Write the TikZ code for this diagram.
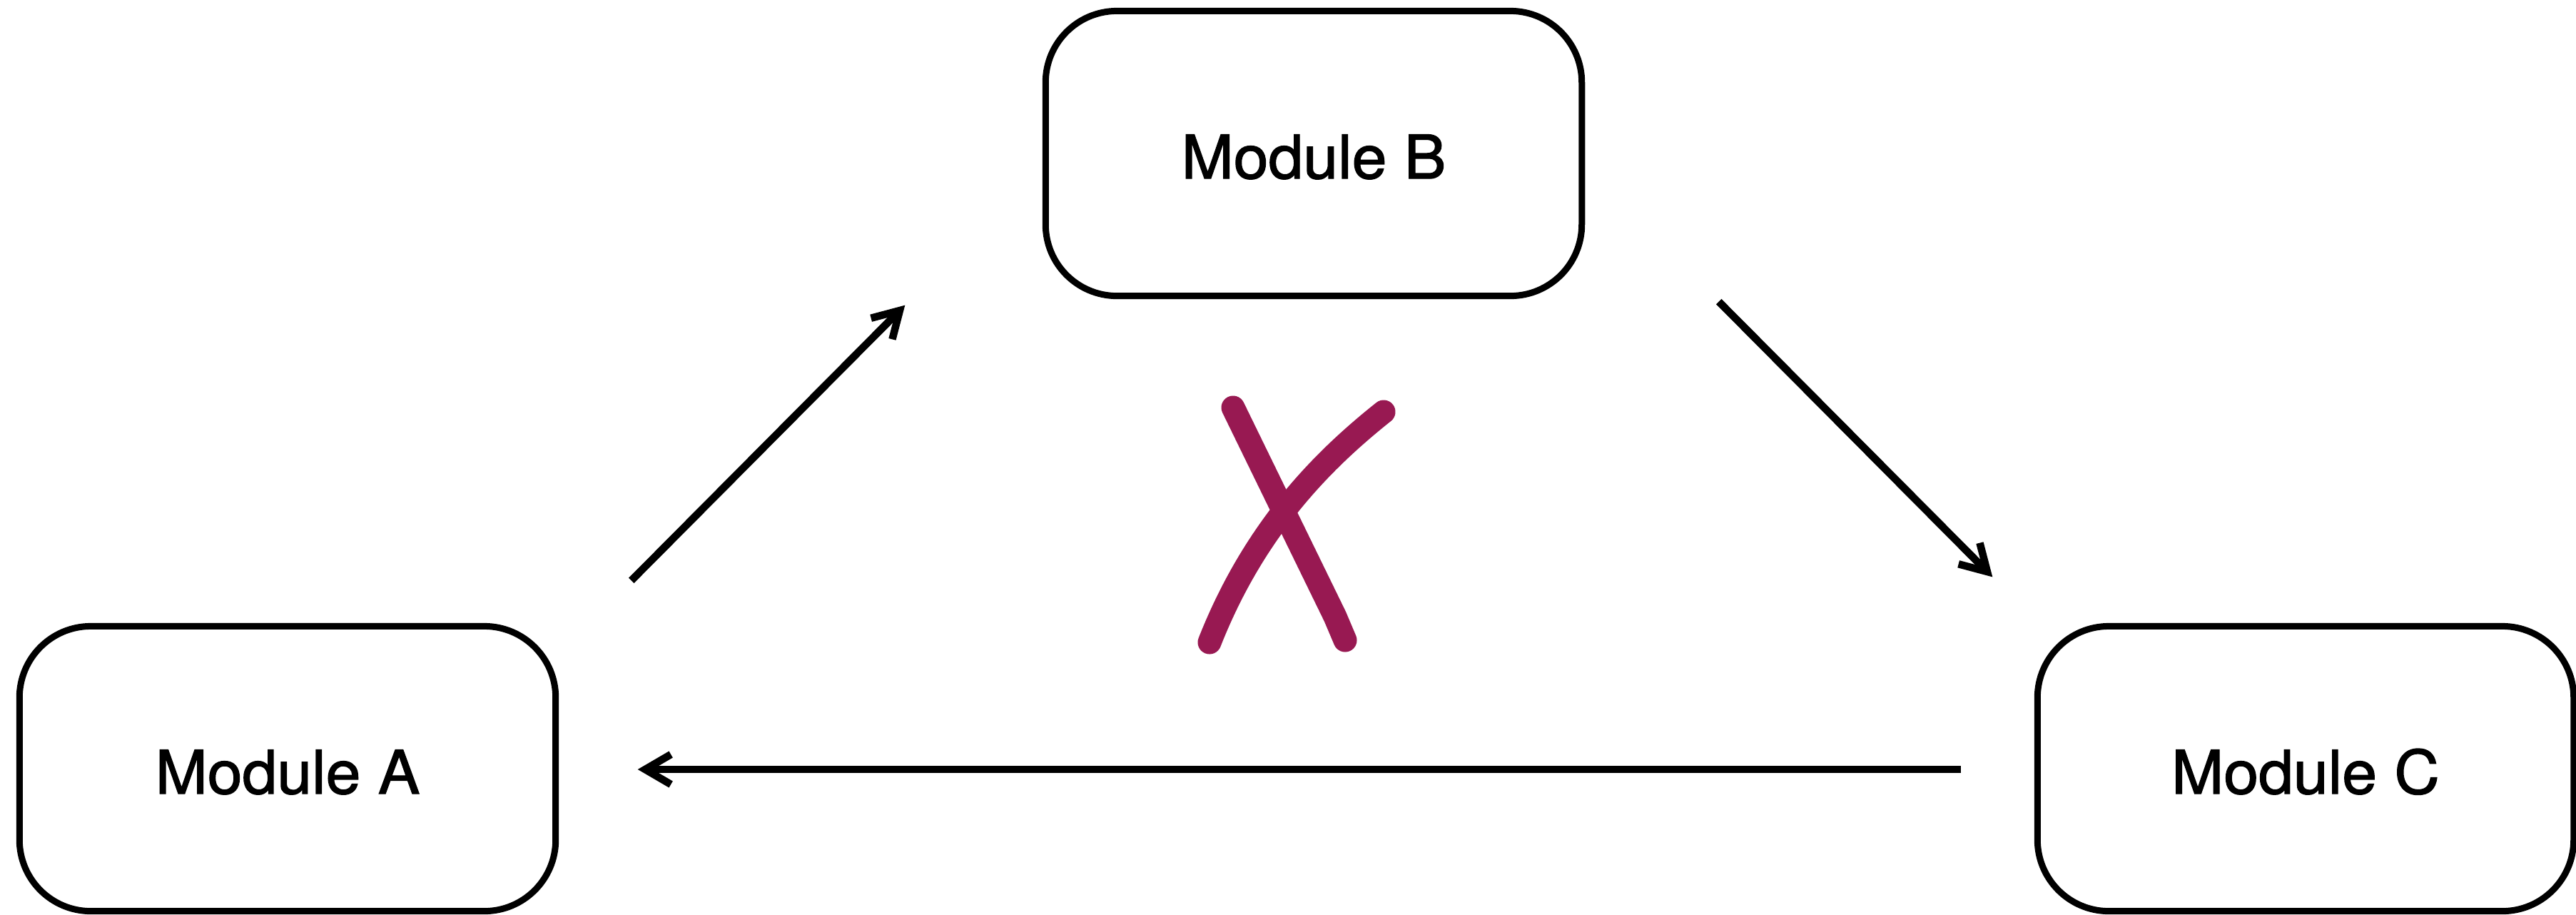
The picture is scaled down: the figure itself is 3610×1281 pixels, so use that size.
\documentclass[tikz,border=0pt]{standalone}
\usepackage{fontspec}
\newfontfamily\modfont{TeX Gyre Heros}[FakeStretch=1.04,FakeBold=1.6]
\usetikzlibrary{arrows.meta,calc}
\definecolor{xmark}{RGB}{152,25,82}
\begin{document}
\begin{tikzpicture}[x=0.01cm,y=-0.01cm,
  module/.style={draw=black, line width=0.09cm, rounded corners=1cm,
    minimum width=7.51cm, minimum height=3.99cm, inner sep=0pt,
    text height=0.70cm, text depth=0cm,
    font=\modfont\fontsize{24pt}{28pt}\selectfont},
  flow/.style={line width=0.105cm, -{Straight Barb[length=0.36cm,width=0.42cm]}},
  cross/.style={draw=xmark, line width=0.33cm, line cap=round, line join=round}]
\fill[white] (0,0) rectangle (3610,1281);
\useasboundingbox (0,0) rectangle (3610,1281);

% modules
\node[module] (A) at (403,1077) {Module A};
\node[module] (B) at (1841,215) {Module B};
\node[module] (C) at (3231,1077) {Module C};

% connector end points
\coordinate (ab0) at ($(A.north east)+(101.5,-59.5)$);
\coordinate (ab1) at ($(B.south west)+(-192.5,8.5)$);
\coordinate (bc0) at ($(B.south east)+(187.5,3.5)$);
\coordinate (bc1) at ($(C.north west)+(-58.5,-64.5)$);
\coordinate (ca0) at ($(C.west)+(-102.5,1)$);
\coordinate (ca1) at ($(A.east)+(110.5,1)$);

\draw[flow] (ab0) -- (ab1);
\draw[flow] (bc0) -- (bc1);
\draw[flow] (ca0) -- (ca1);

% hand-drawn cross
\draw[cross] (1728,571) -- (1871,864) -- (1885,897);
\draw[cross] (1939,577) .. controls (1860,640) and (1760,735) .. (1695,900);
\end{tikzpicture}
\end{document}
